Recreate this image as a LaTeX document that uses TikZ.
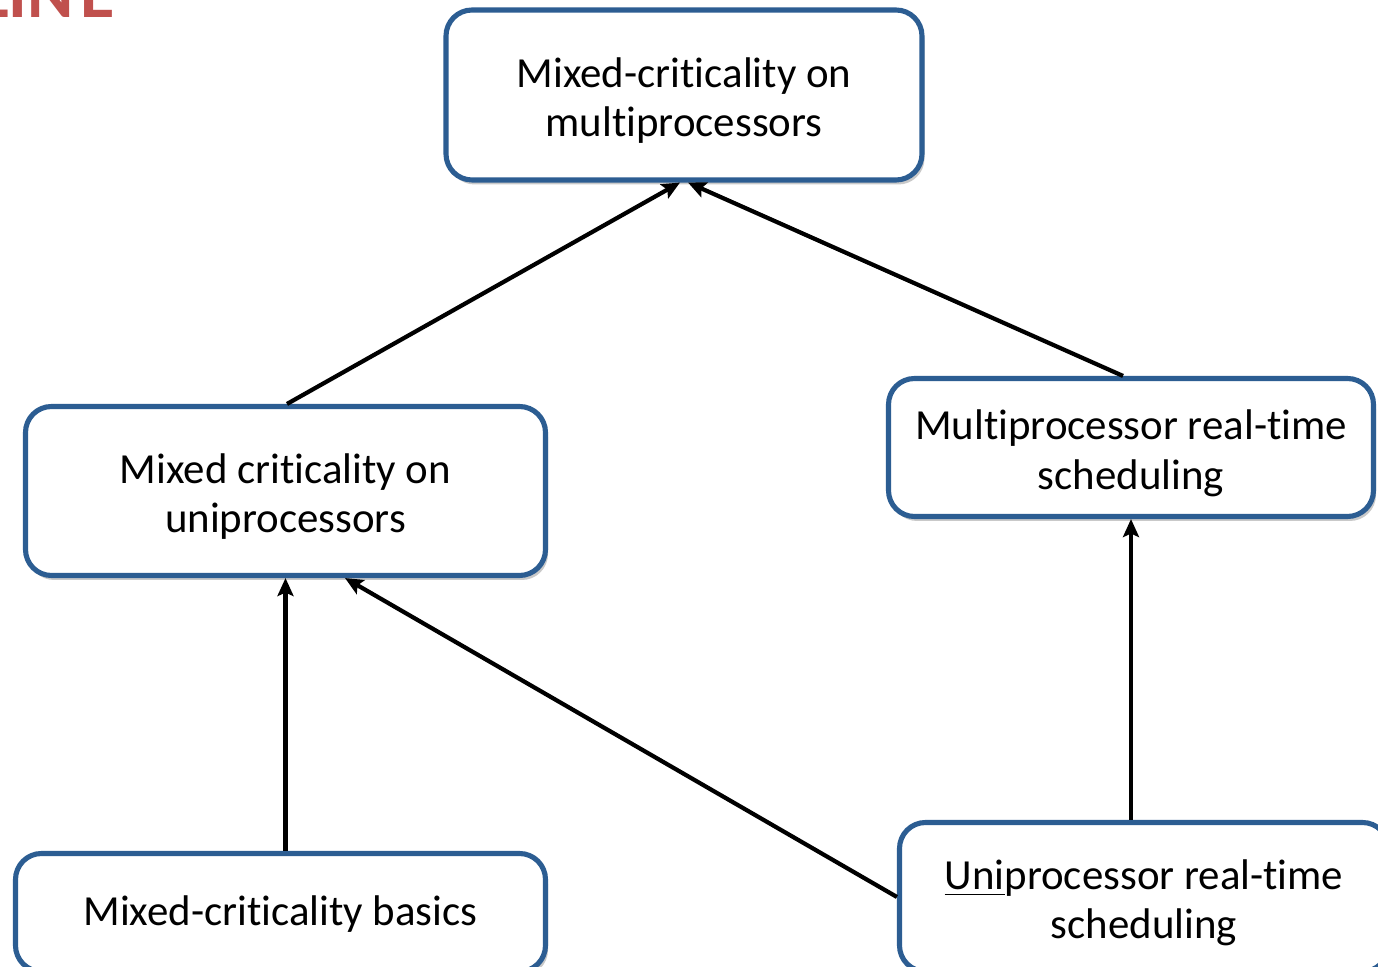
\documentclass[tikz,border=0pt]{standalone}
\usepackage{fontspec}
\setmainfont[Ligatures=NoCommon]{Carlito}
\usetikzlibrary{arrows.meta,shadows}
\definecolor{boxblue}{HTML}{2C5D92}
\definecolor{titlered}{HTML}{C0504D}
\newcommand{\boxtext}[2][2pt]{\raisebox{-#1}[\height][\depth]{\begin{tabular}{@{}c@{}}#2\end{tabular}}}
\tikzset{
  topicbox/.style={draw=boxblue, line width=1.45pt, rounded corners=2.6mm, fill=white,
    align=center, font=\fontsize{12.2pt}{14.2pt}\selectfont,
    drop shadow={shadow xshift=0.25mm, shadow yshift=-0.45mm, opacity=0.35, fill=black!60},
    inner sep=0pt},
  link/.style={line width=1.2pt, -{Stealth[length=1.8mm,width=1.6mm,inset=0.35mm]}}
}
\begin{document}
\begin{tikzpicture}[x=0.1mm,y=-0.1mm]
\useasboundingbox (0,0) rectangle (1378,967);
\clip (0,0) rectangle (1378,967);
\fill[white] (0,0) rectangle (1378,967);
\node[anchor=base east, inner sep=0pt, text=titlered, font=\fontsize{20pt}{24pt}\selectfont\bfseries] (title) at (115,18) {OUTLIN\kern0.6mm E};
\node[topicbox, minimum width=47.6mm, minimum height=17.0mm] (top) at (684,95) {\boxtext{Mixed-criticality on\\multiprocessors}};
\node[topicbox, minimum width=52.0mm, minimum height=16.9mm] (midL) at (285.5,491) {\boxtext{Mixed criticality on\\uniprocessors}};
\node[topicbox, minimum width=48.5mm, minimum height=13.8mm] (midR) at (1131,447.5) {\boxtext{Multiprocessor real-time\\scheduling}};
\node[topicbox, minimum width=53.0mm, minimum height=11.8mm] (botL) at (280.5,912.5) {\boxtext[1pt]{Mixed-criticality basics}};
\node[topicbox, minimum width=48.9mm, minimum height=14.9mm] (botR) at (1144,897) {\boxtext{\underline{Uni}processor real-time\\scheduling}};
\draw[link] ([xshift=0.15mm]midL.north) -- ([xshift=-0.4mm]top.south);
\draw[link] ([xshift=-0.8mm]midR.north) -- ([xshift=0.4mm]top.south);
\draw[link] (botL.north -| midL.south) -- (midL.south);
\draw[link] (botR.west) -- ([xshift=5.95mm]midL.south);
\draw[link] (botR.north -| midR.south) -- (midR.south);
\end{tikzpicture}
\end{document}
